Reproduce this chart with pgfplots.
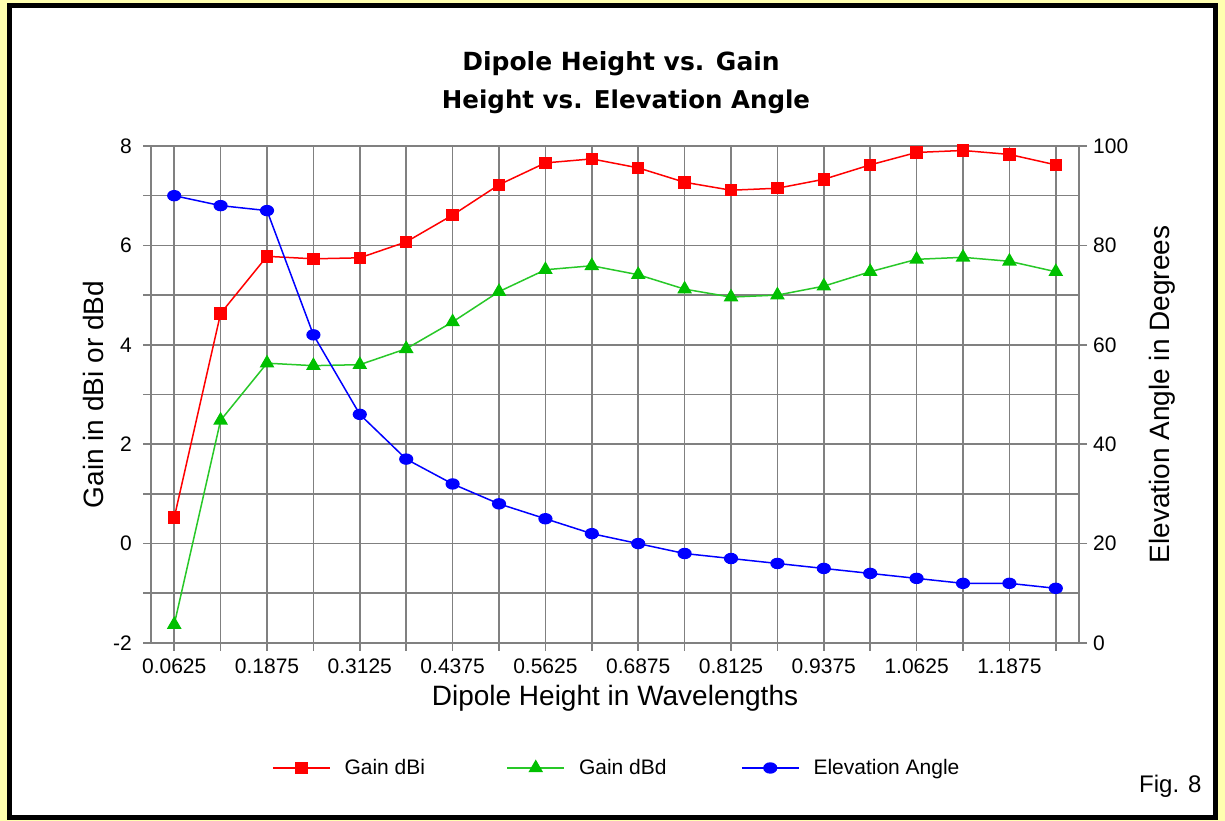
\documentclass[border=0pt]{standalone}
\usepackage{pgfplots}
\pgfplotsset{compat=1.18}
\usepackage{fontspec}
\setmainfont{Liberation Sans}
\newfontfamily\titlefont{DejaVu Sans}
\definecolor{bgyellow}{RGB}{255,255,175}
\definecolor{gridgray}{RGB}{128,128,128}
\definecolor{dgreen}{RGB}{0,192,0}
\definecolor{lgreen}{RGB}{40,200,40}

\pgfplotstableread{
x dBi dBd elev
0 0.52 -1.63 90
1 4.63 2.48 88
2 5.78 3.63 87
3 5.73 3.58 62
4 5.75 3.60 46
5 6.07 3.92 37
6 6.61 4.46 32
7 7.22 5.07 28
8 7.66 5.51 25
9 7.74 5.59 22
10 7.56 5.41 20
11 7.27 5.12 18
12 7.11 4.96 17
13 7.15 5.00 16
14 7.33 5.18 15
15 7.62 5.47 14
16 7.87 5.72 13
17 7.91 5.76 12
18 7.83 5.68 12
19 7.62 5.47 11
}\datatable

\pgfplotsset{
  common/.style={
    at={(151bp,178bp)}, anchor=south west,
    scale only axis, width=928bp, height=497bp,
    xmin=-0.5, xmax=19.5,
    axis line style={gridgray, line width=1.6bp},
    tick style={gridgray, line width=1.6bp},
    tick align=outside, major tick length=8bp,
    /pgf/number format/assume math mode=true,
    tick label style={font=\fontsize{21bp}{24bp}\selectfont, inner sep=0pt, text=black},
    label style={font=\fontsize{28bp}{32bp}\selectfont, inner sep=0pt},
    legend image code/.code={\draw[mark repeat=2,mark phase=2,#1] plot coordinates {(0bp,0bp) (28.5bp,0bp) (57bp,0bp)};},
  }
}

\begin{document}
\begin{tikzpicture}[x=1bp,y=1bp]
\fill[bgyellow] (0,0) rectangle (1225,821);
\useasboundingbox (0,0) rectangle (1225,821);
\draw[black, line width=5bp, fill=white] (9.5,3.5) rectangle (1215.5,815.5);

\node[anchor=base, font=\titlefont\bfseries\fontsize{25bp}{30bp}\selectfont] at (621,750) {Dipole Height vs. Gain};
\node[anchor=base, font=\titlefont\bfseries\fontsize{24.5bp}{30bp}\selectfont] at (626,712) {Height vs. Elevation Angle};
\node[anchor=base west, inner sep=0pt, font=\fontsize{24bp}{28bp}\selectfont] at (1139,28.3) {Fig. 8};

\begin{axis}[common,
  ymin=-2, ymax=8,
  xtick={0,...,19},
  xticklabels={0.0625,,0.1875,,0.3125,,0.4375,,0.5625,,0.6875,,0.8125,,0.9375,,1.0625,,1.1875,},
  ytick={-2,...,8},
  yticklabels={-2,,0,,2,,4,,6,,8},
  grid=major, grid style={gridgray, line width=1.6bp},
  xtick pos=bottom, ytick pos=left,
  xticklabel style={anchor=north, yshift=-8bp},
  yticklabel style={anchor=east, xshift=-11bp},
  xlabel={Dipole Height in Wavelengths},
  ylabel={Gain in dBi or dBd},
  xlabel style={at={(axis description cs:0.5,-0.125)}, anchor=base},
  ylabel style={at={(axis description cs:-0.0517,0.5)}, anchor=base},
  clip=false,
]
\addplot[red, line width=1.5bp, mark=square*, mark size=5.5bp] table[x=x, y=dBi] {\datatable};
\addplot[lgreen, line width=1.5bp, mark=triangle*, mark size=7bp, mark options={dgreen}] table[x=x, y=dBd] {\datatable};
\end{axis}

\begin{axis}[common,
  ymin=0, ymax=100,
  axis y line*=right, axis x line=none,
  ytick={0,20,...,100},
  yticklabel style={anchor=west, xshift=6bp},
  ylabel={Elevation Angle in Degrees},
  ylabel style={at={(axis description cs:1.097,0.5)}, anchor=base},
  legend columns=3,
  legend cell align=left,
  legend style={draw=none, fill=none, inner sep=0pt, outer sep=0pt,
    at={(axis description cs:0.1304,-0.2515)}, anchor=west,
    font=\fontsize{21bp}{24bp}\selectfont,
    nodes={inner sep=0pt},
    /tikz/every odd column/.append style={column sep=14bp}},
  clip=false,
]
\addlegendimage{red, line width=1.5bp, mark=square*, mark size=5.5bp}
\addlegendimage{lgreen, line width=1.5bp, mark=triangle*, mark size=7bp, mark options={dgreen}}
\addplot[blue, line width=1.5bp, mark=*, mark size=5.5bp, mark options={xscale=1.15, yscale=0.9}] table[x=x, y=elev] {\datatable};
\legend{\makebox[162bp][l]{Gain dBi},\makebox[162bp][l]{Gain dBd},\makebox[162bp][l]{Elevation Angle}}
\end{axis}
\end{tikzpicture}
\end{document}
